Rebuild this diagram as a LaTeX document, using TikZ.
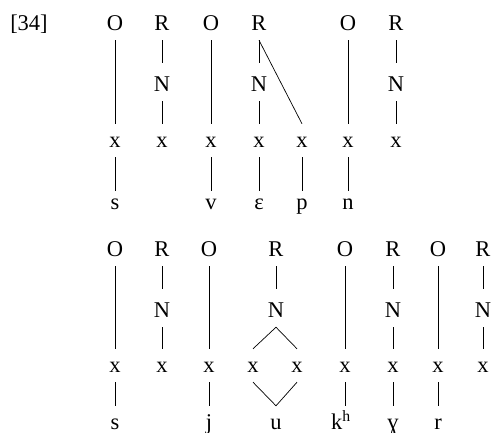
\documentclass[tikz,border=0pt]{standalone}
\usepackage{fontspec}
\setmainfont{Liberation Serif}
\begin{document}
\begin{tikzpicture}[x=1pt,y=-1pt,
  lab/.style={anchor=base,inner xsep=0pt,text depth=0pt,font=\fontsize{22.5}{27}\selectfont},
  hi/.style={lab,text height=14pt,inner ysep=10pt},
  nuc/.style={lab,text height=18pt,inner ysep=10pt},
  sk/.style={lab,text height=13pt,inner ysep=10pt},
  seg/.style={lab,text height=9pt,inner ysep=9pt},
  segb/.style={lab,text height=9pt,inner ysep=14pt},
  ln/.style={line width=0.7pt}]
\useasboundingbox (0,0) rectangle (491,432);
% example number
\node[lab] (ex) at (29,30) {[34]};
% ---------- top structure ----------
\node[hi] (aO1) at (115,30) {O};
\node[hi] (aR1) at (162,30) {R};
\node[hi] (aO2) at (211,30) {O};
\node[hi] (aR2) at (259,30) {R};
\node[hi] (aO3) at (348,30) {O};
\node[hi] (aR3) at (396,30) {R};
\node[nuc] (aN1) at (162,91) {N};
\node[nuc] (aN2) at (259,91) {N};
\node[nuc] (aN3) at (396,91) {N};
\node[sk] (aX1) at (115,147) {x};
\node[sk] (aX2) at (162,147) {x};
\node[sk] (aX3) at (211,147) {x};
\node[sk] (aX4) at (259,147) {x};
\node[sk] (aX5) at (302,147) {x};
\node[sk] (aX6) at (348,147) {x};
\node[sk] (aX7) at (396,147) {x};
\node[seg] (aS1) at (115,209) {s};
\node[seg] (aS3) at (211,209) {v};
\node[seg] (aS4) at (259,209) {ɛ};
\node[seg] (aS5) at (302,209) {p};
\node[seg] (aS6) at (348,209) {n};
\draw[ln] (aO1) -- (aX1);
\draw[ln] (aR1) -- (aN1);
\draw[ln] (aN1) -- (aX2);
\draw[ln] (aO2) -- (aX3);
\draw[ln] (aR2) -- (aN2);
\draw[ln] (aN2) -- (aX4);
\draw[ln] (aR2.south) -- (aX5.north);
\draw[ln] (aO3) -- (aX6);
\draw[ln] (aR3) -- (aN3);
\draw[ln] (aN3) -- (aX7);
\draw[ln] (aX1) -- (aS1);
\draw[ln] (aX3) -- (aS3);
\draw[ln] (aX4) -- (aS4);
\draw[ln] (aX5) -- (aS5);
\draw[ln] (aX6) -- (aS6);
% ---------- bottom structure ----------
\node[hi] (bO1) at (115,256) {O};
\node[hi] (bR1) at (162,256) {R};
\node[hi] (bO2) at (209,256) {O};
\node[hi] (bR2) at (276,256) {R};
\node[hi] (bO3) at (345,256) {O};
\node[hi] (bR3) at (393,256) {R};
\node[hi] (bO4) at (438,256) {O};
\node[hi] (bR4) at (483,256) {R};
\node[nuc] (bN1) at (162,317) {N};
\node[nuc] (bN2) at (276,317) {N};
\node[nuc] (bN3) at (393,317) {N};
\node[nuc] (bN4) at (483,317) {N};
\node[sk] (bX1) at (115,372) {x};
\node[sk] (bX2) at (162,372) {x};
\node[sk] (bX3) at (209,372) {x};
\node[sk] (bXL) at (253,372) {x};
\node[sk] (bXR) at (297,372) {x};
\node[sk] (bX6) at (345,372) {x};
\node[sk] (bX7) at (393,372) {x};
\node[sk] (bX8) at (438,372) {x};
\node[sk] (bX9) at (483,372) {x};
\node[segb] (bS1) at (115,429) {s};
\node[segb] (bS3) at (209,429) {j};
\node[segb] (bSu) at (276,429) {u};
\node[segb] (bS6) at (341,429) {k\textsuperscript{h}};
\node[segb] (bS7) at (393,429) {ɣ};
\node[segb] (bS8) at (438,429) {r};
\draw[ln] (bO1) -- (bX1);
\draw[ln] (bR1) -- (bN1);
\draw[ln] (bN1) -- (bX2);
\draw[ln] (bO2) -- (bX3);
\draw[ln] (bR2) -- (bN2);
\draw[ln] (bN2.south) -- (bXL.north);
\draw[ln] (bN2.south) -- (bXR.north);
\draw[ln] (bO3) -- (bX6);
\draw[ln] (bR3) -- (bN3);
\draw[ln] (bN3) -- (bX7);
\draw[ln] (bO4) -- (bX8);
\draw[ln] (bR4) -- (bN4);
\draw[ln] (bN4) -- (bX9);
\draw[ln] (bX1) -- (bS1);
\draw[ln] (bX3) -- (bS3);
\draw[ln] (bXL.south) -- (bSu.north);
\draw[ln] (bXR.south) -- (bSu.north);
\draw[ln] (bX6.south) -- (bX6.south |- bS6.north);
\draw[ln] (bX7) -- (bS7);
\draw[ln] (bX8) -- (bS8);
\end{tikzpicture}
\end{document}
